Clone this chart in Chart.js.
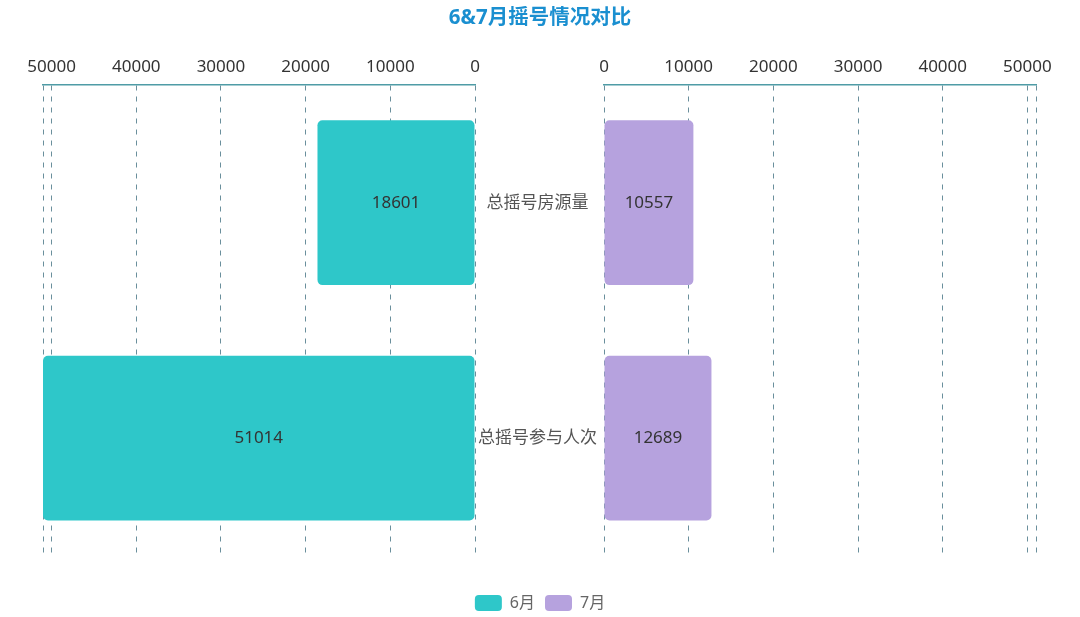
<!DOCTYPE html>
<html>
<head>
<meta charset="utf-8">
<script src="https://cdn.jsdelivr.net/npm/chart.js@4.4.1/dist/chart.umd.min.js"></script>
<style>
html, body { margin: 0; padding: 0; background: #fff; }
#wrap { position: relative; width: 1080px; height: 617px; }
#cL { position: absolute; left: 0; top: 0; }
#cR { position: absolute; left: 560px; top: 0; }
</style>
</head>
<body>
<div id="wrap">
  <canvas id="cL" width="1080" height="617"></canvas>
  <canvas id="cR" width="520" height="617"></canvas>
</div>
<script>
/* data */
const TITLE = '6&7月摇号情况对比';
const categories = ['总摇号房源量', '总摇号参与人次'];
const months = ['6月', '7月'];
const juneValues = [18601, 51014];
const julyValues = [10557, 12689];
const tickValues = [0, 10000, 20000, 30000, 40000, 50000];
const axisMax = 51014;
const monthColors = ['#2ec7c9', '#b6a2de'];

/* helpers */
const FONT = '"Noto Sans", "Noto Sans CJK SC", sans-serif';
const GRID = '#6a8f9c';
const AXIS = '#4f9ca6';

// numbers written in the middle of every bar
const valueLabels = {
  id: 'valueLabels',
  afterDatasetsDraw(chart) {
    const ctx = chart.ctx;
    ctx.save();
    ctx.font = '17px ' + FONT;
    ctx.fillStyle = '#333';
    ctx.textAlign = 'center';
    ctx.textBaseline = 'middle';
    chart.data.datasets.forEach((ds, i) => {
      chart.getDatasetMeta(i).data.forEach((bar, j) => {
        ctx.fillText(String(ds.data[j]), (bar.x + bar.base) / 2, bar.y);
      });
    });
    ctx.restore();
  }
};

// value axis shared look; the axis end (axisMax) gets a grid line but no label
const valueAxis = (reverse) => ({
  type: 'linear',
  position: 'top',
  reverse: reverse,
  min: 0,
  max: axisMax,
  afterBuildTicks(scale) {
    scale.ticks = tickValues.concat([axisMax]).map(v => ({ value: v }));
  },
  ticks: {
    maxRotation: 0,
    autoSkip: false,
    padding: 8,
    color: '#333',
    font: { size: 17, family: FONT },
    callback: v => (tickValues.includes(v) ? String(v) : '')
  },
  grid: { color: GRID, drawTicks: false },
  border: { display: true, color: AXIS, width: 1.5, dash: [5, 6] }
});

/* left half: June, category labels, title and legend */
const left = new Chart(document.getElementById('cL'), {
  type: 'bar',
  data: {
    labels: categories,
    datasets: [{
      label: months[0],
      data: juneValues,
      backgroundColor: monthColors[0],
      borderRadius: 5,
      borderSkipped: false,
      barPercentage: 0.7,
      categoryPercentage: 1
    }]
  },
  options: {
    indexAxis: 'y',
    responsive: false,
    animation: false,
    layout: { padding: { left: 43, right: 43, bottom: -4 } },
    plugins: {
      title: {
        display: true,
        text: TITLE,
        color: '#1a8fd0',
        font: { size: 20.5, weight: 'bold', family: FONT },
        padding: { top: 6, bottom: 18 }
      },
      legend: {
        position: 'bottom',
        onClick: null,
        title: { display: true, text: '', font: { size: 1 }, padding: { top: 0, bottom: 28 } },
        labels: {
          boxWidth: 27,
          boxHeight: 16,
          useBorderRadius: true,
          borderRadius: 4,
          padding: 10,
          color: '#333',
          font: { size: 16, family: FONT },
          generateLabels: () => months.map((m, i) => ({
            text: m,
            fillStyle: monthColors[i],
            strokeStyle: monthColors[i],
            lineWidth: 0,
            borderRadius: 4,
            hidden: false,
            datasetIndex: i
          }))
        }
      },
      tooltip: { enabled: false }
    },
    scales: {
      x: valueAxis(true),
      y: {
        type: 'category',
        position: 'right',
        afterFit(scale) { scale.width = 562; },
        grid: { display: false, drawTicks: false },
        border: { display: false },
        ticks: {
          crossAlign: 'center',
          padding: 3,
          color: '#555',
          font: { size: 17, family: FONT }
        }
      }
    }
  },
  plugins: [valueLabels]
});

/* right half: July, lined up with the left plot area */
const right = new Chart(document.getElementById('cR'), {
  type: 'bar',
  data: {
    labels: categories,
    datasets: [{
      label: months[1],
      data: julyValues,
      backgroundColor: monthColors[1],
      borderRadius: 5,
      borderSkipped: false,
      barPercentage: 0.7,
      categoryPercentage: 1
    }]
  },
  options: {
    indexAxis: 'y',
    responsive: false,
    animation: false,
    layout: {
      padding: {
        left: 44,
        right: 44,
        top: left.scales.x.top,
        bottom: 617 - left.chartArea.bottom
      }
    },
    plugins: { legend: { display: false }, title: { display: false }, tooltip: { enabled: false } },
    scales: {
      x: valueAxis(false),
      y: { type: 'category', display: false }
    }
  },
  plugins: [valueLabels]
});
</script>
</body>
</html>
